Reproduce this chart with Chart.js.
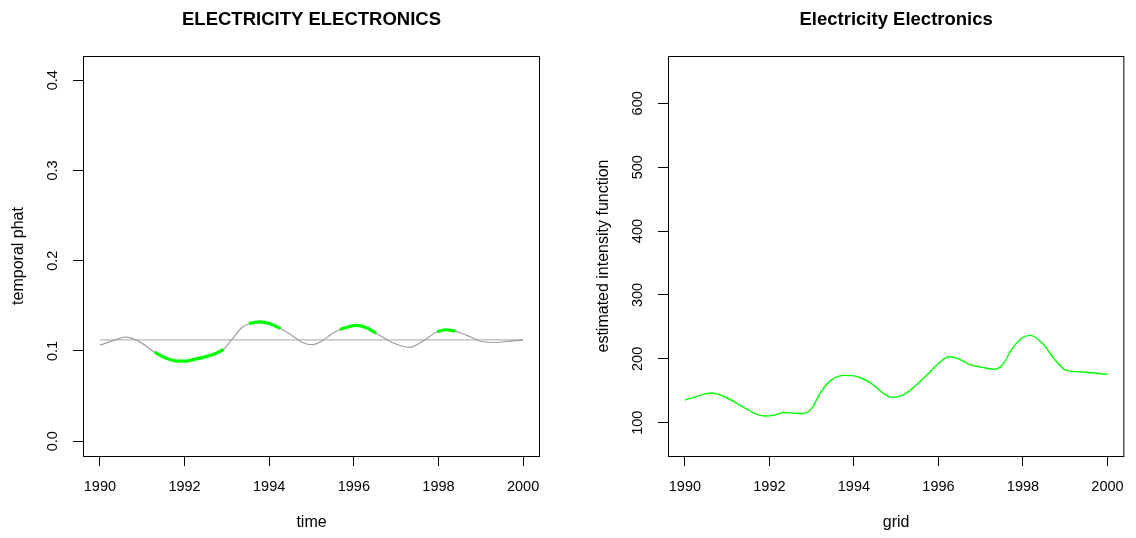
<!DOCTYPE html>
<html>
<head>
<meta charset="utf-8">
<script src="https://cdn.jsdelivr.net/npm/chart.js@4.4.1/dist/chart.umd.min.js"></script>
<style>
  html, body { margin: 0; padding: 0; background: #fff; width: 1136px; height: 538px; overflow: hidden; }
  .panel { position: absolute; top: 0; height: 538px; }
  canvas { display: block; }
</style>
</head>
<body>
<div class="panel" style="left:0;width:568px"><canvas id="phatChart" width="568" height="538"></canvas></div>
<div class="panel" style="left:585px;width:551px"><canvas id="intensityChart" width="551" height="538"></canvas></div>
<script>
// ---- temporal phat (left panel) ----
const phatYears = [1990.00, 1990.28, 1990.61, 1990.91, 1991.29, 1991.54, 1991.78, 1992.01, 1992.25, 1992.48,
                   1992.72, 1992.92, 1993.11, 1993.35, 1993.52, 1993.78, 1994.02, 1994.27, 1994.53, 1994.80,
                   1995.02, 1995.27, 1995.45, 1995.67, 1996.06, 1996.30, 1996.53, 1996.92, 1997.32, 1997.63,
                   1997.97, 1998.18, 1998.40, 1998.66, 1999.05, 1999.36, 1999.68, 2000.00];
const phatValues = [0.1064, 0.1109, 0.1153, 0.1109, 0.0987, 0.0924, 0.0891, 0.0887, 0.0909, 0.0935,
                    0.0969, 0.1016, 0.1124, 0.1257, 0.1305, 0.1323, 0.1301, 0.1249, 0.1175, 0.1091,
                    0.1070, 0.1116, 0.1180, 0.1238, 0.1283, 0.1257, 0.1197, 0.1091, 0.1040, 0.1109,
                    0.1213, 0.1235, 0.1220, 0.1175, 0.1102, 0.1094, 0.1109, 0.1120];
// 1 = stretch flagged in green
const phatFlagged = [0, 0, 0, 0, 1, 1, 1, 1, 1, 1,
                     1, 1, 0, 0, 1, 1, 1, 1, 0, 0,
                     0, 0, 0, 1, 1, 1, 1, 0, 0, 0,
                     1, 1, 1, 0, 0, 0, 0, 0];
const phatMean = 0.1124;
const phatYTicks = [0, 0.1, 0.2, 0.3, 0.4];
const phatYLabels = ['0.0', '0.1', '0.2', '0.3', '0.4'];

// ---- estimated intensity (right panel) ----
const gridYears = [1990.00, 1990.31, 1990.63, 1990.94, 1991.34, 1991.65, 1991.89, 1992.12, 1992.36, 1992.59,
                   1992.80, 1993.00, 1993.22, 1993.46, 1993.78, 1994.09, 1994.41, 1994.72, 1994.92, 1995.23,
                   1995.70, 1996.02, 1996.25, 1996.49, 1996.73, 1997.04, 1997.32, 1997.51, 1997.75, 1997.98,
                   1998.18, 1998.46, 1998.73, 1999.01, 1999.32, 1999.64, 2000.00];
const intensityValues = [135.5, 141.8, 146.5, 140.7, 126.1, 114.7, 110.5, 112.0, 116.0, 115.0,
                         114.5, 122.5, 148.5, 166.8, 174.2, 172.0, 161.7, 144.9, 139.7, 146.0,
                         173.1, 193.9, 203.3, 199.7, 191.4, 186.7, 183.6, 190.3, 216.4, 233.0,
                         236.8, 224.3, 200.8, 182.5, 179.8, 178.2, 175.5];
const intensityYTicks = [100, 200, 300, 400, 500, 600];
const intensityYLabels = ['100', '200', '300', '400', '500', '600'];

const yearTicks = [1990, 1992, 1994, 1996, 1998, 2000];

const FONT = "'Liberation Sans', Arial, Helvetica, sans-serif";

// Frame, titles, axis titles and rotated y tick labels
const panelText = {
  id: 'panelText',
  afterDraw(chart, args, opts) {
    const ctx = chart.ctx;
    const a = chart.chartArea;
    ctx.save();
    ctx.strokeStyle = '#000';
    ctx.lineWidth = 1;
    ctx.strokeRect(a.left + 0.5, a.top + 0.5, a.right - a.left - 1, a.bottom - a.top);
    ctx.fillStyle = '#000';
    const cx = (a.left + a.right) / 2;
    const cy = (a.top + a.bottom) / 2;
    ctx.textAlign = 'center';
    ctx.textBaseline = 'middle';
    ctx.font = 'bold 18.5px ' + FONT;
    ctx.fillText(opts.title, cx, 20);
    ctx.font = '16px ' + FONT;
    ctx.fillText(opts.xTitle, cx, 523);
    ctx.save();
    ctx.translate(19, cy);
    ctx.rotate(-Math.PI / 2);
    ctx.fillText(opts.yTitle, 0, 0);
    ctx.restore();
    const ys = chart.scales.y;
    ctx.font = '14.5px ' + FONT;
    ys.ticks.forEach((t, i) => {
      const py = ys.getPixelForValue(t.value);
      ctx.save();
      ctx.translate(53, py);
      ctx.rotate(-Math.PI / 2);
      ctx.fillText(opts.yLabels[i], 0, 0);
      ctx.restore();
    });
    ctx.restore();
  }
};

function makePanel(canvasId, p) {
  return new Chart(document.getElementById(canvasId), {
    type: 'line',
    data: { datasets: p.datasets },
    options: {
      responsive: false,
      animation: false,
      devicePixelRatio: 1,
      layout: { padding: { left: 0, right: p.padRight, top: 56, bottom: 0 } },
      elements: { point: { radius: 0 } },
      plugins: {
        legend: { display: false },
        tooltip: { enabled: false },
        title: { display: false },
        panelText: { title: p.title, xTitle: p.xTitle, yTitle: p.yTitle, yLabels: p.yLabels }
      },
      scales: {
        x: {
          type: 'linear',
          min: 1989.6,
          max: 2000.4,
          afterFit: s => { s.height = 82; },
          afterBuildTicks: s => { s.ticks = yearTicks.map(v => ({ value: v })); },
          grid: { drawOnChartArea: false, drawTicks: true, tickLength: 10, color: '#000', lineWidth: 1 },
          border: { display: false },
          ticks: {
            color: '#000',
            font: { family: FONT, size: 14.5 },
            padding: 12,
            maxRotation: 0,
            autoSkip: false,
            callback: v => String(v)
          }
        },
        y: {
          type: 'linear',
          min: p.yMin,
          max: p.yMax,
          afterFit: s => { s.width = 83; },
          afterBuildTicks: s => { s.ticks = p.yTicks.map(v => ({ value: v })); },
          grid: { drawOnChartArea: false, drawTicks: true, tickLength: 10, color: '#000', lineWidth: 1 },
          border: { display: false },
          ticks: { display: false }
        }
      }
    },
    plugins: [panelText]
  });
}

const curveOf = (xs, ys) => xs.map((x, i) => ({ x: x, y: ys[i] }));

makePanel('phatChart', {
  title: 'ELECTRICITY ELECTRONICS',
  xTitle: 'time',
  yTitle: 'temporal phat',
  yLabels: phatYLabels,
  yTicks: phatYTicks,
  yMin: -0.0164,
  yMax: 0.4269,
  padRight: 28,
  datasets: [
    {
      data: phatYears.map((x, i) => ({ x: x, y: phatFlagged[i] ? phatValues[i] : null })),
      borderColor: '#00ff00', borderWidth: 3.2, cubicInterpolationMode: 'monotone', spanGaps: false, order: 0
    },
    {
      data: curveOf(phatYears, phatValues),
      borderColor: '#9e9e9e', borderWidth: 1.2, cubicInterpolationMode: 'monotone', order: 1
    },
    {
      data: [{ x: phatYears[0], y: phatMean }, { x: phatYears[phatYears.length - 1], y: phatMean }],
      borderColor: '#b8b8b8', borderWidth: 1.2, order: 2
    }
  ]
});

makePanel('intensityChart', {
  title: 'Electricity Electronics',
  xTitle: 'grid',
  yTitle: 'estimated intensity function',
  yLabels: intensityYLabels,
  yTicks: intensityYTicks,
  yMin: 48,
  yMax: 674,
  padRight: 11,
  datasets: [
    {
      data: curveOf(gridYears, intensityValues),
      borderColor: '#00ff00', borderWidth: 1.4, cubicInterpolationMode: 'monotone'
    }
  ]
});
</script>
</body>
</html>
